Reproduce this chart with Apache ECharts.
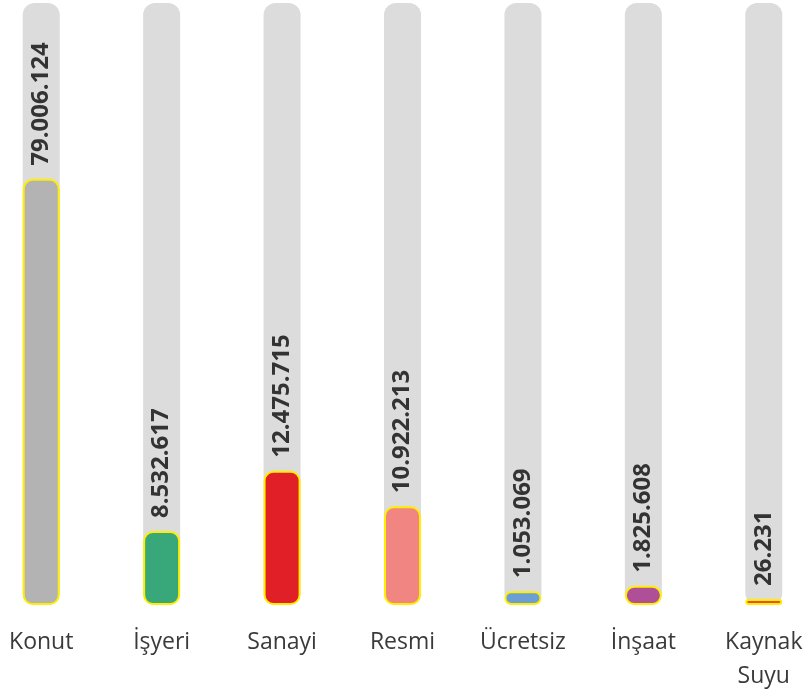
<!DOCTYPE html>
<html>
<head>
<meta charset="utf-8">
<script src="https://cdn.jsdelivr.net/npm/echarts@6/dist/echarts.min.js"></script>
<style>
  html, body { margin: 0; padding: 0; background: #fff; overflow: hidden; }
  #chart { width: 843px; height: 695px; margin-left: -19px; }
</style>
</head>
<body>
<div id="chart"></div>
<script>
// abone tipleri
var categories = ['Konut', 'İşyeri', 'Sanayi', 'Resmi', 'Ücretsiz', 'İnşaat', 'Kaynak Suyu'];
// bar üstü etiketler (tüketim)
var labels = [79006124, 8532617, 12475715, 10922213, 1053069, 1825608, 26231];
// bar yükseklikleri (%)
var heights = [70.8, 12.3, 22.3, 16.4, 2.3, 3.2, 1.0];
var colors = ['#b3b3b3', '#38a87a', '#e01f26', '#f08582', '#6a9ed4', '#ae4f97', '#e5531a'];

function fmt(n) {
    return String(n).replace(/\B(?=(\d{3})+(?!\d))/g, '.');
}

var myChart = echarts.init(document.getElementById('chart'));

var data = heights.map(function (h, i) {
    return {
        value: h,
        itemStyle: { color: colors[i] }
    };
});

var option = {
    animation: false,
    grid: { left: 0, right: 0, top: 3, bottom: 90, containLabel: false, outerBoundsMode: 'none' },
    xAxis: {
        type: 'category',
        data: categories,
        axisLine: { show: false },
        axisTick: { show: false },
        axisLabel: {
            margin: 20,
            fontSize: 23,
            color: '#3a3a3a',
            fontFamily: 'Open Sans',
            lineHeight: 34,
            interval: 0,
            formatter: function (v) { return v.replace(' ', '\n'); }
        }
    },
    yAxis: {
        type: 'value',
        min: 0,
        max: 100,
        show: false
    },
    series: [{
        type: 'bar',
        data: data,
        barWidth: 37,
        showBackground: true,
        backgroundStyle: { color: '#dcdcdc', borderRadius: 12 },
        itemStyle: {
            borderColor: '#ffee00',
            borderWidth: 2,
            borderRadius: 9
        },
        label: {
            show: true,
            position: 'top',
            rotate: 90,
            align: 'left',
            verticalAlign: 'middle',
            distance: 13,
            fontSize: 24,
            fontWeight: 'bold',
            fontFamily: 'Open Sans',
            color: '#333',
            formatter: function (p) { return fmt(labels[p.dataIndex]); }
        }
    }]
};

myChart.setOption(option);
</script>
</body>
</html>
